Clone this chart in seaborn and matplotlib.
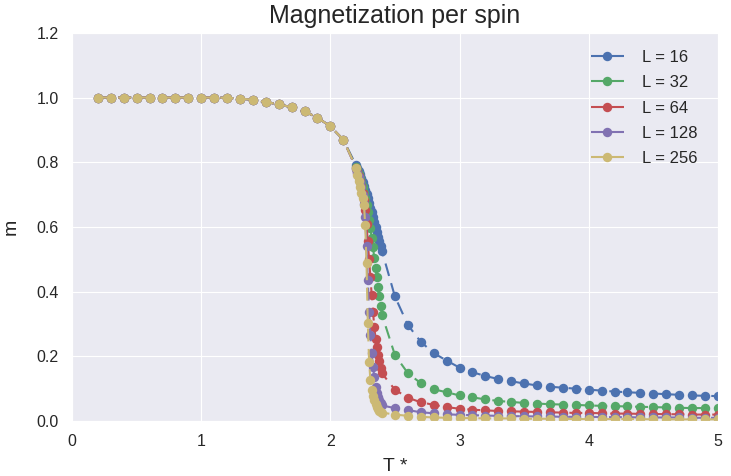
import numpy as np
import pandas as pd
import matplotlib
matplotlib.use("Agg")
import matplotlib.pyplot as plt
import seaborn as sns

# ---- data ----
t_low = [0.2, 0.3, 0.4, 0.5, 0.6, 0.7, 0.8, 0.9, 1.0, 1.1,
         1.2, 1.3, 1.4, 1.5, 1.6, 1.7, 1.8, 1.9, 2.0, 2.1]
t_mid = [2.20, 2.21, 2.22, 2.23, 2.24, 2.25, 2.26, 2.27, 2.28, 2.29, 2.30,
         2.31, 2.32, 2.33, 2.34, 2.35, 2.36, 2.37, 2.38, 2.39, 2.40]
t_high = [2.5, 2.6, 2.7, 2.8, 2.9, 3.0, 3.1, 3.2, 3.3, 3.4, 3.5, 3.6, 3.7,
          3.8, 3.9, 4.0, 4.1, 4.2, 4.3, 4.4, 4.5, 4.6, 4.7, 4.8, 4.9, 5.0]

m_low = [1.0, 1.0, 1.0, 1.0, 1.0, 1.0, 1.0, 1.0, 1.0, 1.0,
         0.999, 0.997, 0.993, 0.986, 0.979, 0.970, 0.957, 0.938, 0.911, 0.870]

m16_mid = [0.790, 0.782, 0.773, 0.763, 0.752, 0.740, 0.728, 0.715, 0.702, 0.688, 0.674,
           0.660, 0.645, 0.630, 0.615, 0.600, 0.585, 0.570, 0.555, 0.540, 0.525]
m32_mid = [0.785, 0.775, 0.763, 0.750, 0.737, 0.722, 0.706, 0.688, 0.668, 0.646, 0.622,
           0.596, 0.567, 0.537, 0.505, 0.474, 0.444, 0.414, 0.385, 0.356, 0.328]
m64_mid = [0.782, 0.770, 0.757, 0.742, 0.725, 0.705, 0.682, 0.652, 0.610, 0.555, 0.500,
           0.445, 0.390, 0.338, 0.292, 0.255, 0.228, 0.205, 0.185, 0.165, 0.147]
m128_mid = [0.780, 0.768, 0.755, 0.740, 0.722, 0.700, 0.672, 0.630, 0.540, 0.437, 0.338,
            0.266, 0.210, 0.168, 0.137, 0.106, 0.088, 0.075, 0.064, 0.055, 0.048]
m256_mid = [0.782, 0.762, 0.741, 0.722, 0.705, 0.688, 0.669, 0.607, 0.488, 0.302, 0.184,
            0.127, 0.096, 0.078, 0.065, 0.053, 0.044, 0.037, 0.032, 0.029, 0.026]

m16_high = [0.385, 0.297, 0.245, 0.210, 0.187, 0.165, 0.151, 0.139, 0.130, 0.123, 0.116,
            0.110, 0.106, 0.103, 0.100, 0.097, 0.094, 0.091, 0.089, 0.087, 0.085,
            0.083, 0.081, 0.079, 0.078, 0.077]
m32_high = [0.204, 0.148, 0.117, 0.098, 0.089, 0.079, 0.073, 0.067, 0.062, 0.059, 0.056,
            0.054, 0.052, 0.051, 0.050, 0.048, 0.047, 0.046, 0.045, 0.044, 0.043,
            0.042, 0.041, 0.040, 0.040, 0.039]
m64_high = [0.097, 0.072, 0.058, 0.050, 0.043, 0.038, 0.035, 0.033, 0.031, 0.030, 0.029,
            0.028, 0.027, 0.026, 0.025, 0.025, 0.024, 0.023, 0.023, 0.022, 0.022,
            0.021, 0.021, 0.020, 0.020, 0.020]
m128_high = [0.040, 0.034, 0.027, 0.024, 0.021, 0.019, 0.018, 0.017, 0.016, 0.015, 0.015,
             0.014, 0.014, 0.013, 0.013, 0.013, 0.012, 0.012, 0.012, 0.011, 0.011,
             0.011, 0.011, 0.010, 0.010, 0.010]
m256_high = [0.020, 0.016, 0.013, 0.011, 0.010, 0.009, 0.009, 0.008, 0.008, 0.008, 0.007,
             0.007, 0.007, 0.007, 0.006, 0.006, 0.006, 0.006, 0.006, 0.006, 0.005,
             0.005, 0.005, 0.005, 0.005, 0.005]

sizes = [16, 32, 64, 128, 256]
mids = [m16_mid, m32_mid, m64_mid, m128_mid, m256_mid]
highs = [m16_high, m32_high, m64_high, m128_high, m256_high]
colors = ["#4C72B0", "#55A868", "#C44E52", "#8172B2", "#CCB974"]

x_ticks = [0, 1, 2, 3, 4, 5]
y_ticks = [0.0, 0.2, 0.4, 0.6, 0.8, 1.0, 1.2]

# ---- style ----
sns.set_style("darkgrid")
plt.rcParams["font.family"] = ["Liberation Sans", "DejaVu Sans"]
plt.rcParams["text.color"] = ".15"
plt.rcParams["axes.labelcolor"] = ".15"
plt.rcParams["xtick.color"] = ".15"
plt.rcParams["ytick.color"] = ".15"

fig = plt.figure(figsize=(7.31, 4.76), dpi=100)
ax = fig.add_axes([0.0985, 0.1155, 0.982 - 0.0985, 0.931 - 0.1155])

for L, mm, mh, c in zip(sizes, mids, highs, colors):
    df = pd.DataFrame({
        "T": t_low + t_mid + t_high,
        "m": m_low + mm + mh,
    })
    sns.lineplot(data=df, x="T", y="m", ax=ax, color=c, label=f"L = {L}",
                 marker="o", markersize=6.8, markeredgewidth=0,
                 linewidth=1.5, linestyle=(0, (6.2, 3.6)),
                 errorbar=None, sort=True)

ax.set_xlim(0, 5)
ax.set_ylim(0, 1.2)
ax.set_xticks(x_ticks)
ax.set_yticks(y_ticks)
ax.set_yticklabels([f"{v:.1f}" for v in y_ticks])
ax.tick_params(labelsize=11.5, pad=6)
ax.set_xlabel("T *", fontsize=14, labelpad=6)
ax.set_ylabel("m", fontsize=14, labelpad=12)
ax.set_title("Magnetization per spin", fontsize=18, pad=7)

leg = ax.legend(loc="upper right", frameon=False, fontsize=12,
                handletextpad=1.1, handlelength=2.0, labelspacing=0.62,
                bbox_to_anchor=(1 - 5 / 646, 1 - 2 / 388))

fig.savefig("out.png", dpi=100)
